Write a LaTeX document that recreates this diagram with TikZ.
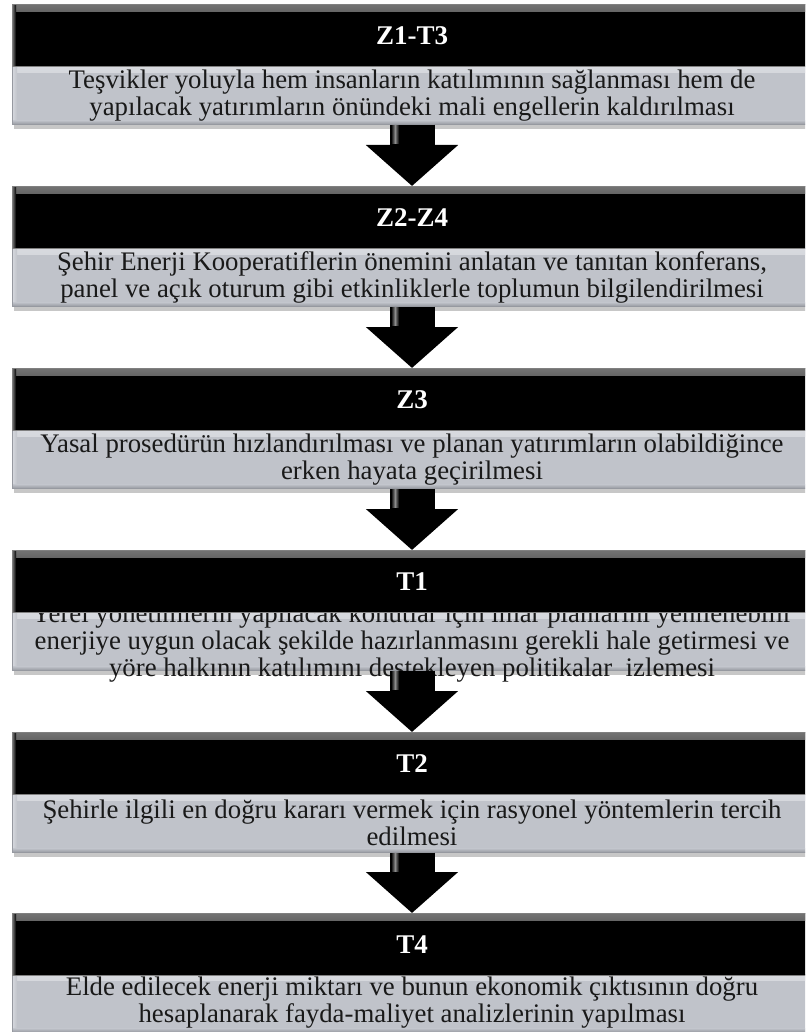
\documentclass[tikz,border=0pt]{standalone}
\usepackage{fontspec}
\setmainfont{Liberation Serif}
\usetikzlibrary{arrows.meta,calc}
\definecolor{boxgray}{RGB}{192,195,202}
\definecolor{boxlight}{RGB}{216,218,223}
\definecolor{boxdark}{RGB}{150,153,160}
\tikzset{
  hdrbox/.style={fill=black, draw=black!50, line width=0.6pt, minimum width=800pt,
    minimum height=62pt, inner sep=0pt, anchor=north, text=white,
    font=\fontsize{27}{29}\selectfont\bfseries,
    path picture={
      \shade[top color=black!55, bottom color=black]
        (path picture bounding box.north west) rectangle ([yshift=-7pt]path picture bounding box.north east);
      \shade[left color=black!50, right color=black]
        (path picture bounding box.north west) rectangle ([xshift=4pt]path picture bounding box.south west);
    }},
  bodybox/.style={fill=boxgray, draw=boxdark, line width=0.6pt, minimum width=800pt,
    minimum height=58pt, inner sep=0pt, anchor=north,
    path picture={
      \shade[top color=boxlight, bottom color=boxgray]
        (path picture bounding box.north west) rectangle ([yshift=-6pt]path picture bounding box.north east);
      \shade[left color=boxlight, right color=boxgray]
        (path picture bounding box.north west) rectangle ([xshift=5pt]path picture bounding box.south west);
      \shade[top color=boxgray, bottom color=boxdark]
        ([yshift=4pt]path picture bounding box.south west) rectangle (path picture bounding box.south east);
    }},
  bodytext/.style={align=center, inner sep=0pt, text=black!90,
    font=\fontsize{26.8}{27}\selectfont},
  shadowbar/.style={fill=black, opacity=0.22},
  blockarrow/.style={draw=black, line width=45pt, -{Triangle[width=90pt,length=41pt]}},
  shaftshine/.style={left color=black, right color=black, middle color=black!45},
}
\begin{document}
\begin{tikzpicture}[x=1pt,y=-1pt]
\useasboundingbox (0,0) rectangle (805,1032);
\clip (0,0) rectangle (805,1032);
\fill[white] (0,0) rectangle (805,1032);

% body boxes
\node[bodybox] (b1) at (412,66)  {};
\node[bodybox] (b2) at (412,248) {};
\node[bodybox] (b3) at (412,430) {};
\node[bodybox] (b4) at (412,612) {};
\node[bodybox] (b5) at (412,794) {};
\node[bodybox] (b6) at (412,974) {};
\foreach \b in {b1,b2,b3,b4,b5}{
  \fill[shadowbar] ($(\b.south west)+(2,0)$) rectangle ($(\b.south east)+(0,4)$);
}

% texts
\node[bodytext] (t1) at (b1.center) {Teşvikler yoluyla hem insanların katılımının sağlanması hem de\\yapılacak yatırımların önündeki mali engellerin kaldırılması};
\node[bodytext] (t2) at (b2.center) {Şehir Enerji Kooperatiflerin önemini anlatan ve tanıtan konferans,\\panel ve açık oturum gibi etkinliklerle toplumun bilgilendirilmesi};
\node[bodytext] (t3) at (b3.center) {Yasal prosedürün hızlandırılması ve planan yatırımların olabildiğince\\erken hayata geçirilmesi};
\node[bodytext] (t4) at ($(b4.center)+(0,2)$) {Yerel yönetimlerin yapılacak konutlar için imar planlarını yenilenebilir\\enerjiye uygun olacak şekilde hazırlanmasını gerekli hale getirmesi ve\\yöre halkının katılımını destekleyen politikalar~ izlemesi};
\node[bodytext] (t5) at (b5.center) {Şehirle ilgili en doğru kararı vermek için rasyonel yöntemlerin tercih\\edilmesi};
\node[bodytext] (t6) at ($(b6.north)+(0,29)$) {Elde edilecek enerji miktarı ve bunun ekonomik çıktısının doğru\\hesaplanarak fayda-maliyet analizlerinin yapılması};

% headers
\node[hdrbox] (h1) at (412,4)   {Z1-T3};
\node[hdrbox] (h2) at (412,186) {Z2-Z4};
\node[hdrbox] (h3) at (412,368) {Z3};
\node[hdrbox] (h4) at (412,550) {T1};
\node[hdrbox] (h5) at (412,732) {T2};
\node[hdrbox] (h6) at (412,913) {T4};

% arrows
\draw[blockarrow] (b1.south) -- (h2.north);
\draw[blockarrow] (b2.south) -- (h3.north);
\draw[blockarrow] (b3.south) -- (h4.north);
\draw[blockarrow] (b4.south) -- (h5.north);
\draw[blockarrow] (b5.south) -- (h6.north);
\foreach \b in {b1,b2,b3,b4,b5}{
  \shade[shaftshine] ($(\b.south)+(-21,1)$) rectangle ($(\b.south)+(-13,19)$);
}
\end{tikzpicture}
\end{document}
